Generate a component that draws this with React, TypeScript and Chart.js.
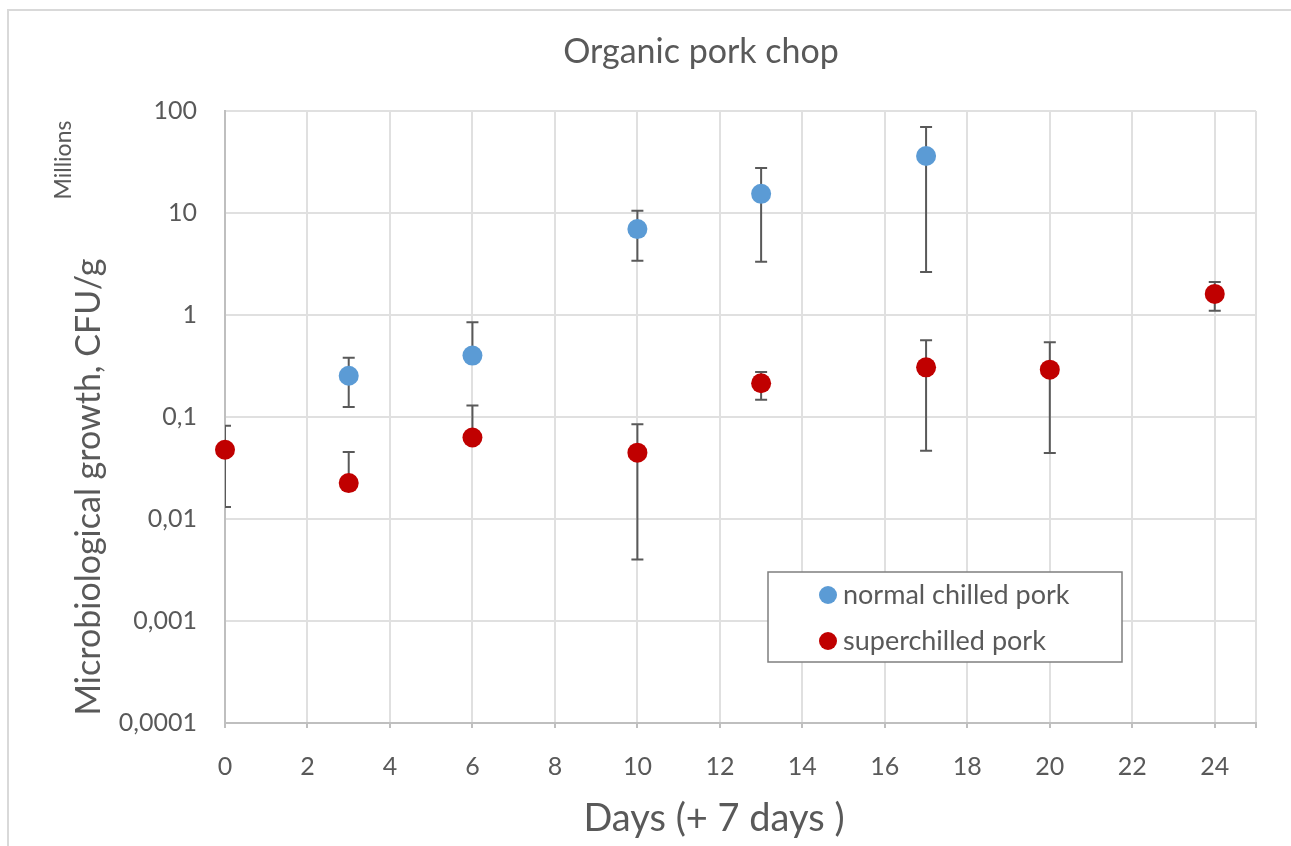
import React, { useEffect, useRef } from "react";
import { Chart, registerables } from "chart.js";

Chart.register(...registerables);

const chartTitle = "Organic pork chop";
const xTitle = "Days (+ 7 days )";
const yTitle = "Microbiological growth, CFU/g";
const yUnit = "Millions";

const xTicks = [0, 2, 4, 6, 8, 10, 12, 14, 16, 18, 20, 22, 24, 25];
const yTicks = [0.0001, 0.001, 0.01, 0.1, 1, 10, 100];

const normalLabel = "normal chilled pork";
const normalDays = [3, 6, 10, 13, 17];
const normalValues = [0.254, 0.4, 6.95, 15.4, 36.2];
const normalUpper = [0.382, 0.85, 10.5, 27.6, 69.7];
const normalLower: (number | null)[] = [0.125, null, 3.41, 3.33, 2.64];

const superLabel = "superchilled pork";
const superDays = [0, 3, 6, 10, 13, 17, 20, 24];
const superValues = [0.0478, 0.0225, 0.063, 0.0447, 0.214, 0.307, 0.291, 1.61];
const superUpper = [0.082, 0.0454, 0.13, 0.0847, 0.276, 0.565, 0.54, 2.11];
const superLower: (number | null)[] = [0.0131, null, null, 0.004, 0.148, 0.0467, 0.0444, 1.1];

const FONT = "Lato, 'Open Sans', sans-serif";
const TEXT = "#595959";

const errorBarPlugin = {
  id: "errorBars",
  beforeDatasetsDraw(chart: any) {
    const { ctx, chartArea } = chart;
    const yScale = chart.scales.y;
    ctx.save();
    ctx.beginPath();
    ctx.rect(chartArea.left, chartArea.top, chartArea.right - chartArea.left, chartArea.bottom - chartArea.top);
    ctx.clip();
    ctx.strokeStyle = "#595959";
    ctx.lineWidth = 2;
    chart.data.datasets.forEach((ds: any, di: number) => {
      const meta = chart.getDatasetMeta(di);
      meta.data.forEach((el: any, i: number) => {
        const x = el.x;
        const y = el.y;
        const up = ds.errUpper[i];
        const lo = ds.errLower[i];
        const cap = 6;
        if (up != null) {
          const yu = yScale.getPixelForValue(up);
          ctx.beginPath();
          ctx.moveTo(x, y);
          ctx.lineTo(x, yu);
          ctx.moveTo(x - cap, yu);
          ctx.lineTo(x + cap, yu);
          ctx.stroke();
        }
        if (lo != null) {
          const yl = yScale.getPixelForValue(lo);
          ctx.beginPath();
          ctx.moveTo(x, y);
          ctx.lineTo(x, yl);
          ctx.moveTo(x - cap, yl);
          ctx.lineTo(x + cap, yl);
          ctx.stroke();
        }
      });
    });
    ctx.restore();
  },
};

const textPlugin = {
  id: "texts",
  afterDraw(chart: any) {
    const { ctx } = chart;
    ctx.save();
    ctx.fillStyle = TEXT;
    // title
    ctx.font = `34px ${FONT}`;
    ctx.textAlign = "center";
    ctx.textBaseline = "alphabetic";
    ctx.fillText(chartTitle, 701, 63);
    // x title
    ctx.font = `38px ${FONT}`;
    ctx.fillText(xTitle, 714, 831);
    // y title
    ctx.save();
    ctx.translate(100, 487);
    ctx.rotate(-Math.PI / 2);
    ctx.font = `34px ${FONT}`;
    ctx.fillText(yTitle, 0, 0);
    ctx.restore();
    // units
    ctx.save();
    ctx.translate(71, 160);
    ctx.rotate(-Math.PI / 2);
    ctx.font = `23px ${FONT}`;
    ctx.fillText(yUnit, 0, 0);
    ctx.restore();
    // legend
    ctx.strokeStyle = "#7f7f7f";
    ctx.lineWidth = 1.5;
    ctx.fillStyle = "#ffffff";
    ctx.fillRect(768, 572, 354, 90);
    ctx.strokeRect(768, 572, 354, 90);
    const rows = [595, 641];
    chart.data.datasets.forEach((ds: any, i: number) => {
      ctx.beginPath();
      ctx.fillStyle = ds.backgroundColor;
      ctx.arc(828, rows[i], 9, 0, Math.PI * 2);
      ctx.fill();
      ctx.fillStyle = TEXT;
      ctx.font = `27px ${FONT}`;
      ctx.textAlign = "left";
      ctx.textBaseline = "middle";
      ctx.fillText(ds.label, 843, rows[i]);
    });
    ctx.restore();
  },
};

function fmt(v: number): string {
  return String(v).replace(".", ",");
}

export default function App() {
  const ref = useRef<HTMLCanvasElement | null>(null);
  useEffect(() => {
    if (!ref.current) return;
    const chart = new Chart(ref.current, {
      type: "scatter",
      data: {
        datasets: [
          {
            label: normalLabel,
            data: normalDays.map((d, i) => ({ x: d, y: normalValues[i] })),
            backgroundColor: "#5b9bd5",
            borderColor: "#5b9bd5",
            pointRadius: 10,
            pointBorderWidth: 0,
            clip: false,
            errUpper: normalUpper,
            errLower: normalLower,
          } as any,
          {
            label: superLabel,
            data: superDays.map((d, i) => ({ x: d, y: superValues[i] })),
            backgroundColor: "#c00000",
            borderColor: "#c00000",
            pointRadius: 10,
            pointBorderWidth: 0,
            clip: false,
            errUpper: superUpper,
            errLower: superLower,
          } as any,
        ],
      },
      options: {
        animation: false,
        responsive: false,
        events: [],
        layout: { padding: { top: 111, right: 35, left: 0, bottom: 0 } },
        plugins: {
          legend: { display: false },
          title: { display: false },
          tooltip: { enabled: false },
        },
        scales: {
          x: {
            type: "linear",
            min: 0,
            max: 25,
            afterBuildTicks: (s: any) => {
              s.ticks = xTicks.map((v) => ({ value: v }));
            },
            afterFit: (s: any) => {
              s.height = 846 - 723;
            },
            border: { color: "#bfbfbf", width: 2 },
            grid: { color: "#e0e0e0", lineWidth: 2, tickLength: 5, tickColor: "#bfbfbf" },
            ticks: {
              autoSkip: false,
              maxRotation: 0,
              padding: 24,
              color: TEXT,
              font: { family: FONT, size: 25 },
              callback: (v: any) => (v === 25 ? "" : String(v)),
            },
          },
          y: {
            type: "logarithmic",
            min: 0.0001,
            max: 100,
            afterBuildTicks: (s: any) => {
              s.ticks = yTicks.map((v) => ({ value: v }));
            },
            afterFit: (s: any) => {
              s.width = 225;
            },
            border: { color: "#bfbfbf", width: 2 },
            grid: { color: "#e0e0e0", lineWidth: 2, drawTicks: false },
            ticks: {
              padding: 28,
              color: TEXT,
              font: { family: FONT, size: 25 },
              callback: (v: any) => fmt(Number(v)),
            },
          },
        },
      },
      plugins: [errorBarPlugin, textPlugin],
    });
    return () => chart.destroy();
  }, []);

  return (
    <div style={{ position: "absolute", left: 0, top: 0, width: 1291, height: 846, overflow: "hidden", background: "#fff" }}>
      <div
        style={{
          position: "absolute",
          left: 7,
          top: 9,
          width: 1284,
          height: 837,
          borderTop: "2px solid #d9d9d9",
          borderLeft: "2px solid #d9d9d9",
          boxSizing: "border-box",
        }}
      />
      <canvas ref={ref} width={1291} height={846} style={{ position: "absolute", left: 0, top: 0 }} />
    </div>
  );
}
